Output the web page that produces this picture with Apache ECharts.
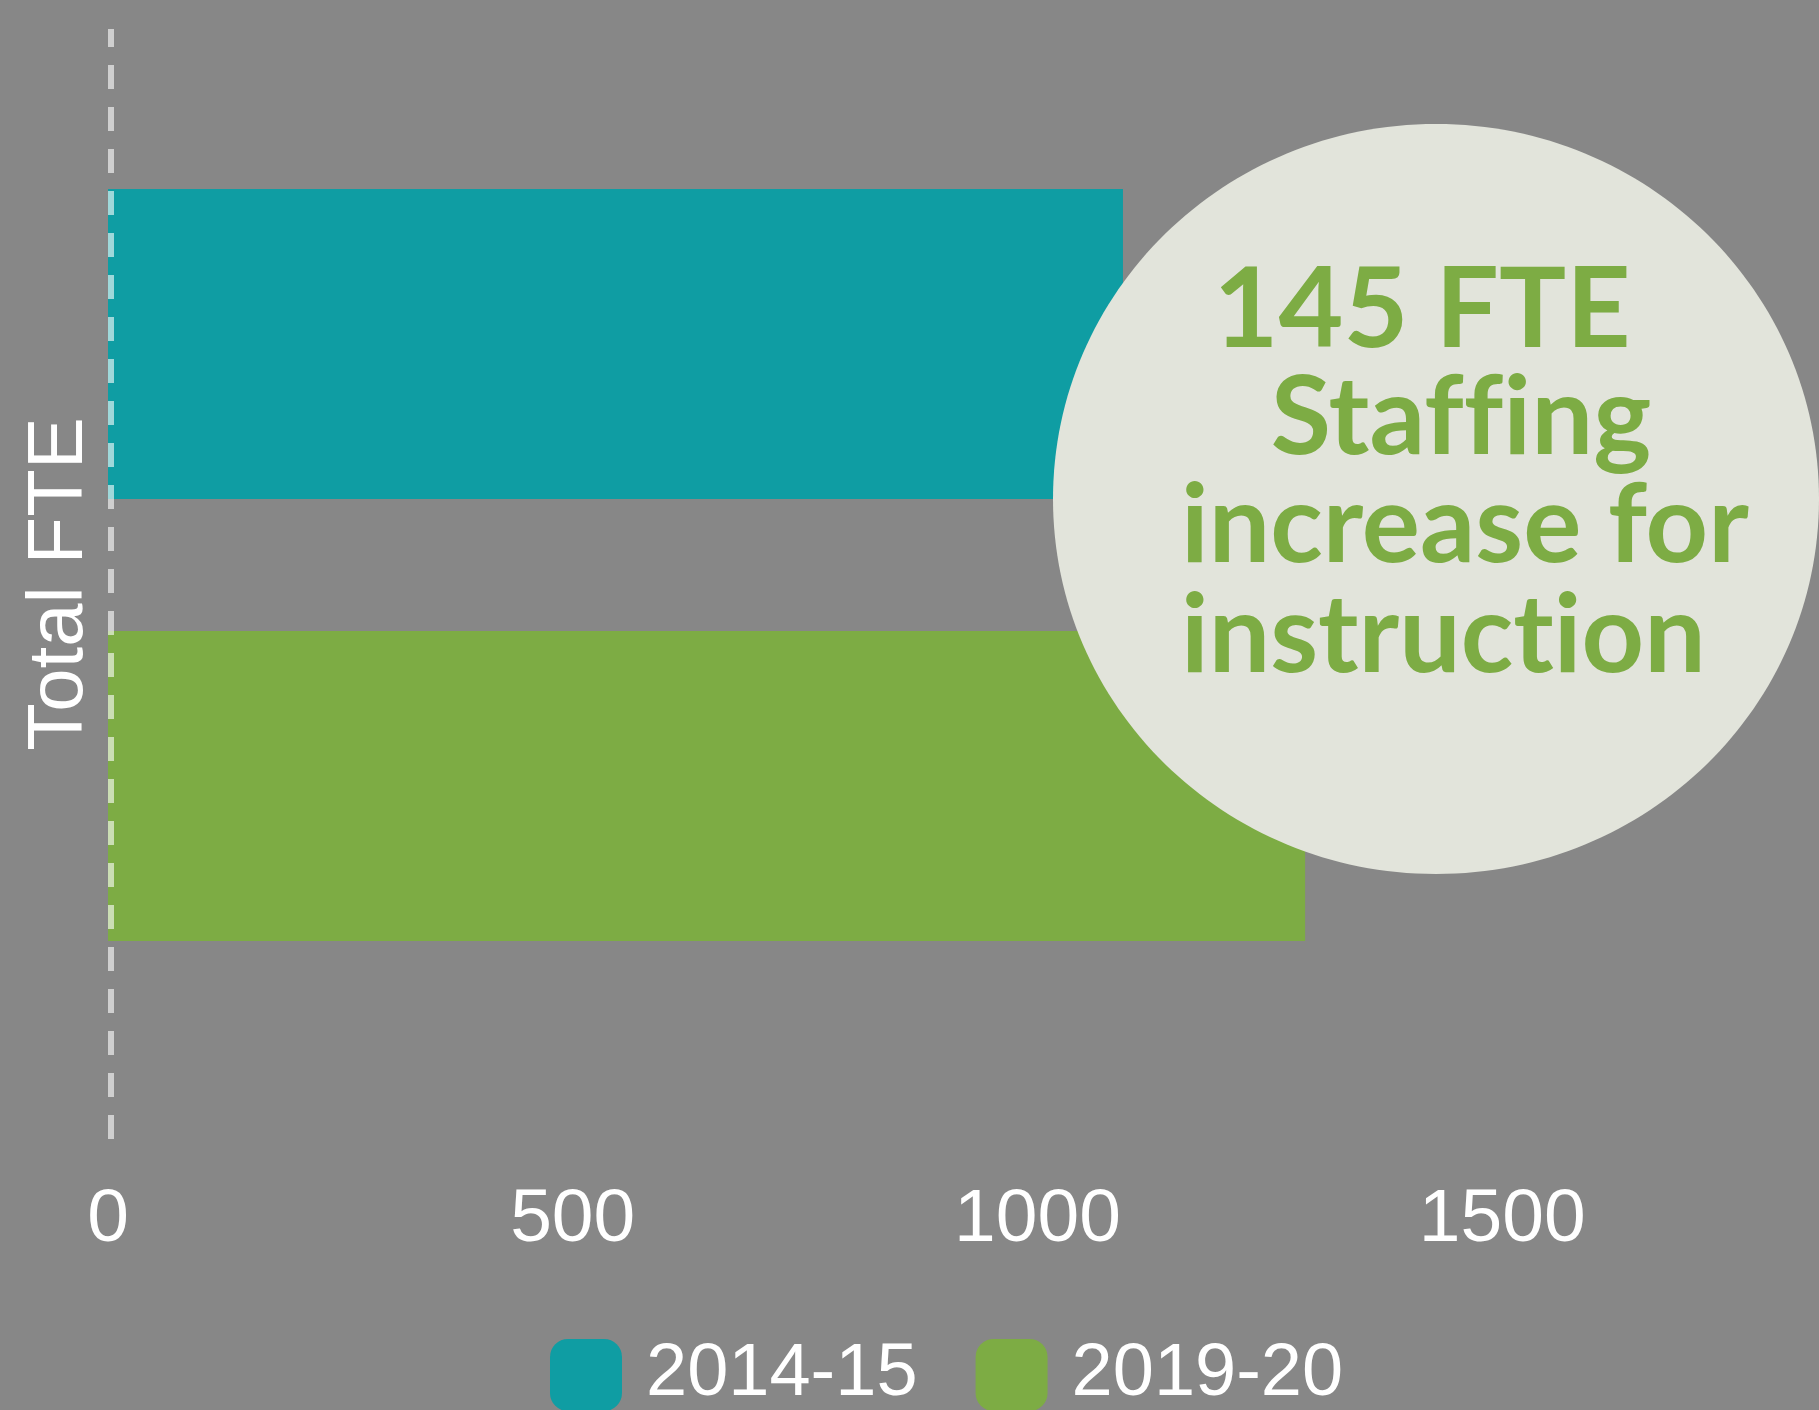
<!DOCTYPE html>
<html>
<head>
<meta charset="utf-8">
<script src="https://cdn.jsdelivr.net/npm/echarts@6/dist/echarts.min.js"></script>
<style>
  html, body { margin: 0; padding: 0; background: #878787; }
  #main { width: 1819px; height: 1410px; }
</style>
</head>
<body>
<div id="main"></div>
<script>
// data
const categories = ['Total FTE'];
const seriesNames = ['2014-15', '2019-20'];
const fte201415 = [1092];
const fte201920 = [1288];
const xTicks = [0, 500, 1000, 1500];
// \u200c keeps "ffi" / "ti" from turning into ligatures
const calloutLines = ['145 FTE', 'Sta\u200cf\u200cf\u200cing', 'increase for', 'instruct\u200cion'];

const teal = '#0f9da3';
const green = '#7dac44';

let option = {
  backgroundColor: '#878787',
  animation: false,
  legend: {
    left: 545,
    top: 1333,
    itemWidth: 72,
    itemHeight: 72,
    itemGap: 58,
    icon: 'roundRect',
    data: seriesNames,
    textStyle: {
      color: '#fff',
      fontSize: 74,
      lineHeight: 72,
      fontFamily: 'Liberation Sans',
      padding: [0, 0, 0, 19]
    }
  },
  grid: [
    // bars + value labels
    { left: 108, right: 38, top: 10, bottom: 290 },
    // dashed baseline + category label
    { left: 111, right: 35, top: 29, bottom: 271 }
  ],
  xAxis: [
    {
      gridIndex: 0,
      type: 'value',
      min: 0,
      max: 1800,
      interval: 500,
      splitLine: { show: false },
      axisLine: { show: false },
      axisTick: { show: false },
      axisLabel: {
        color: '#fff',
        fontSize: 75,
        fontFamily: 'Liberation Sans',
        margin: 63,
        showMaxLabel: false,
        formatter: v => xTicks.indexOf(v) >= 0 ? String(v) : ''
      }
    },
    {
      gridIndex: 1,
      type: 'value',
      min: 0,
      max: 1800,
      show: false
    }
  ],
  yAxis: [
    {
      gridIndex: 0,
      type: 'category',
      data: categories,
      show: false
    },
    {
      gridIndex: 1,
      type: 'category',
      data: categories,
      z: 5,
      axisLine: {
        show: true,
        lineStyle: {
          color: 'rgba(255,255,255,0.6)',
          width: 6,
          type: [24, 18],
          cap: 'butt'
        }
      },
      axisTick: { show: false },
      axisLabel: {
        color: '#fff',
        fontSize: 78,
        fontFamily: 'Liberation Sans',
        rotate: 90,
        margin: 12
      }
    }
  ],
  series: [
    {
      name: seriesNames[0],
      type: 'bar',
      xAxisIndex: 0,
      yAxisIndex: 0,
      data: fte201415,
      barWidth: 310,
      barGap: '42.6%',
      itemStyle: { color: teal }
    },
    {
      name: seriesNames[1],
      type: 'bar',
      xAxisIndex: 0,
      yAxisIndex: 0,
      data: fte201920,
      barWidth: 310,
      barGap: '42.6%',
      itemStyle: { color: green }
    }
  ],
  graphic: [
    {
      type: 'ellipse',
      z: 10,
      shape: { cx: 1436, cy: 499, rx: 383, ry: 375 },
      style: { fill: '#e2e4db' }
    },
    {
      type: 'text', z: 11, x: 1422, y: 311,
      style: { text: calloutLines[0], fill: green, font: 'bold 112px Lato', textAlign: 'center', textVerticalAlign: 'middle' }
    },
    {
      type: 'text', z: 11, x: 1461, y: 419,
      style: { text: calloutLines[1], fill: green, font: 'bold 110px Lato', textAlign: 'center', textVerticalAlign: 'middle' }
    },
    {
      type: 'text', z: 11, x: 1181, y: 527,
      style: { text: calloutLines[2], fill: green, font: 'bold 109px Lato', textAlign: 'left', textVerticalAlign: 'middle' }
    },
    {
      type: 'text', z: 11, x: 1181, y: 637,
      style: { text: calloutLines[3], fill: green, font: 'bold 109px Lato', textAlign: 'left', textVerticalAlign: 'middle' }
    }
  ]
};

let myChart = echarts.init(document.getElementById('main'));
myChart.setOption(option);
</script>
</body>
</html>
